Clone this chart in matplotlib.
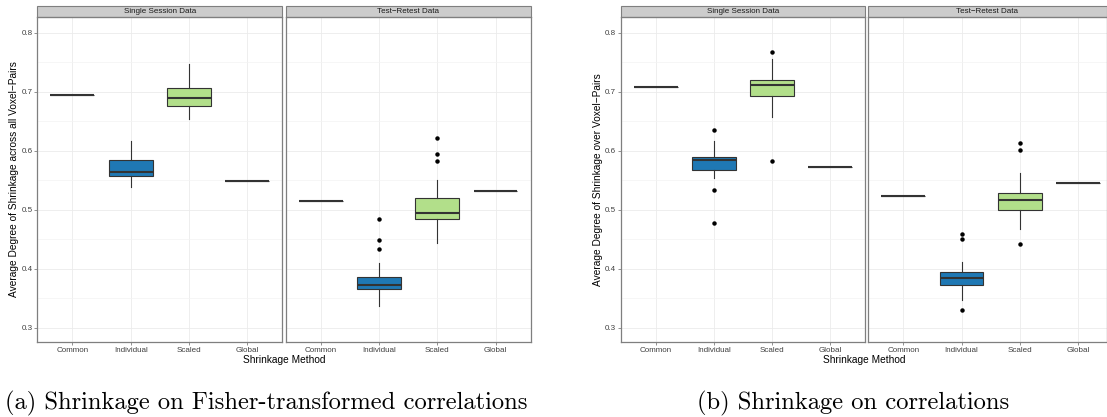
import matplotlib
matplotlib.use('Agg')
import matplotlib.pyplot as plt
from matplotlib.patches import Rectangle

plt.rcParams['font.family'] = ['Liberation Sans', 'DejaVu Sans']

# categories and facets
methods = ['Common', 'Individual', 'Scaled', 'Global']
facets = ['Single Session Data', 'Test\u2212Retest Data']
fill_colors = ['#A6CEE3', '#1F78B4', '#B2DF8A', '#33A02C']

# (a) Fisher-transformed, single session
fisher_single_lo = [0.695, 0.538, 0.654, 0.549]
fisher_single_q1 = [0.695, 0.557, 0.676, 0.549]
fisher_single_med = [0.695, 0.564, 0.689, 0.549]
fisher_single_q3 = [0.695, 0.585, 0.707, 0.549]
fisher_single_hi = [0.695, 0.616, 0.747, 0.549]
fisher_single_out = [[], [], [], []]

# (a) Fisher-transformed, test-retest
fisher_retest_lo = [0.515, 0.336, 0.443, 0.532]
fisher_retest_q1 = [0.515, 0.365, 0.485, 0.532]
fisher_retest_med = [0.515, 0.373, 0.495, 0.532]
fisher_retest_q3 = [0.515, 0.386, 0.520, 0.532]
fisher_retest_hi = [0.515, 0.410, 0.550, 0.532]
fisher_retest_out = [[], [0.484, 0.448, 0.434], [0.621, 0.595, 0.583], []]

# (b) raw correlations, single session
corr_single_lo = [0.708, 0.554, 0.657, 0.573]
corr_single_q1 = [0.708, 0.568, 0.692, 0.573]
corr_single_med = [0.708, 0.584, 0.711, 0.573]
corr_single_q3 = [0.708, 0.590, 0.719, 0.573]
corr_single_hi = [0.708, 0.616, 0.755, 0.573]
corr_single_out = [[], [0.635, 0.533, 0.477], [0.767, 0.582], []]

# (b) raw correlations, test-retest
corr_retest_lo = [0.524, 0.347, 0.467, 0.545]
corr_retest_q1 = [0.524, 0.372, 0.499, 0.545]
corr_retest_med = [0.524, 0.385, 0.517, 0.545]
corr_retest_q3 = [0.524, 0.394, 0.528, 0.545]
corr_retest_hi = [0.524, 0.412, 0.563, 0.545]
corr_retest_out = [[], [0.459, 0.451, 0.330], [0.613, 0.601, 0.442], []]

yticks = [0.3, 0.4, 0.5, 0.6, 0.7, 0.8]
yminor = [0.35, 0.45, 0.55, 0.65, 0.75]

W, H = 1107, 417
fig = plt.figure(figsize=(W / 100, H / 100), dpi=100)


def make_stats(lo, q1, med, q3, hi, out):
    return [dict(whislo=lo[i], q1=q1[i], med=med[i], q3=q3[i], whishi=hi[i],
                 fliers=out[i], label=methods[i]) for i in range(len(methods))]


def facet(left, right, stats, title, show_y, xmax=4.6):
    ax = fig.add_axes([left / W, (H - 342) / H, (right - left) / W, 325 / H])
    bp = ax.bxp(stats, positions=range(1, 5), widths=0.75, patch_artist=True,
                showcaps=False,
                boxprops=dict(edgecolor='#333333', linewidth=0.8),
                medianprops=dict(color='#333333', linewidth=1.5),
                whiskerprops=dict(color='#333333', linewidth=0.8),
                flierprops=dict(marker='o', markerfacecolor='black',
                                markeredgecolor='black', markersize=2.2))
    for patch, c in zip(bp['boxes'], fill_colors):
        patch.set_facecolor(c)
    ax.set_xlim(0.4, xmax)
    ax.set_ylim(0.2758, 0.8266)
    ax.set_yticks(yticks)
    ax.set_yticks(yminor, minor=True)
    ax.set_xticks(range(1, 5))
    ax.set_xticklabels(methods)
    ax.grid(True, which='major', color='#EBEBEB', linewidth=0.6)
    ax.grid(True, which='minor', axis='y', color='#F3F3F3', linewidth=0.5)
    ax.set_axisbelow(True)
    for s in ax.spines.values():
        s.set_color('#7F7F7F')
        s.set_linewidth(0.9)
    ax.tick_params(which='major', length=2, width=0.6, color='#7F7F7F',
                   labelsize=5.8, labelcolor='#404040', pad=1.5)
    ax.tick_params(which='minor', length=0)
    if show_y:
        ax.set_yticklabels([f'{t:.1f}' for t in yticks])
    else:
        ax.tick_params(axis='y', length=0, labelleft=False)
    h = 11 / 325
    ax.add_patch(Rectangle((0, 1), 1, h, transform=ax.transAxes, clip_on=False,
                           facecolor='#CCCCCC', edgecolor='#7F7F7F', linewidth=0.8))
    ax.text(0.5, 1 + h / 2, title, transform=ax.transAxes, ha='center',
            va='center', fontsize=5.8, color='#1A1A1A')
    return ax


# panel (a)
facet(37.3, 282.3, make_stats(fisher_single_lo, fisher_single_q1, fisher_single_med,
                              fisher_single_q3, fisher_single_hi, fisher_single_out),
      facets[0], True)
facet(285.7, 530.5, make_stats(fisher_retest_lo, fisher_retest_q1, fisher_retest_med,
                               fisher_retest_q3, fisher_retest_hi, fisher_retest_out),
      facets[1], False)
fig.text(14 / W, 1 - 179.5 / H, 'Average Degree of Shrinkage across all Voxel\u2212Pairs',
         rotation=90, ha='center', va='center', fontsize=7.3)
fig.text(284 / W, 1 - 360 / H, 'Shrinkage Method', ha='center', va='center', fontsize=7.3)

# panel (b)
facet(621, 865, make_stats(corr_single_lo, corr_single_q1, corr_single_med,
                           corr_single_q3, corr_single_hi, corr_single_out),
      facets[0], True)
facet(868.3, 1106.5, make_stats(corr_retest_lo, corr_retest_q1, corr_retest_med,
                                corr_retest_q3, corr_retest_hi, corr_retest_out),
      facets[1], False, xmax=0.4 + (1106.5 - 868.3) / 58.3)
fig.text(598 / W, 1 - 179.5 / H, 'Average Degree of Shrinkage over Voxel\u2212Pairs',
         rotation=90, ha='center', va='center', fontsize=7.3)
fig.text(864 / W, 1 - 360 / H, 'Shrinkage Method', ha='center', va='center', fontsize=7.3)

# captions
fig.text(5 / W, 1 - 403 / H, '(a) Shrinkage on Fisher-transformed correlations',
         ha='left', va='center', fontsize=17.7, family='cmr10')
fig.text(697 / W, 1 - 403 / H, '(b) Shrinkage on correlations',
         ha='left', va='center', fontsize=17.7, family='cmr10')

fig.savefig('out.png', dpi=100, facecolor='white')
